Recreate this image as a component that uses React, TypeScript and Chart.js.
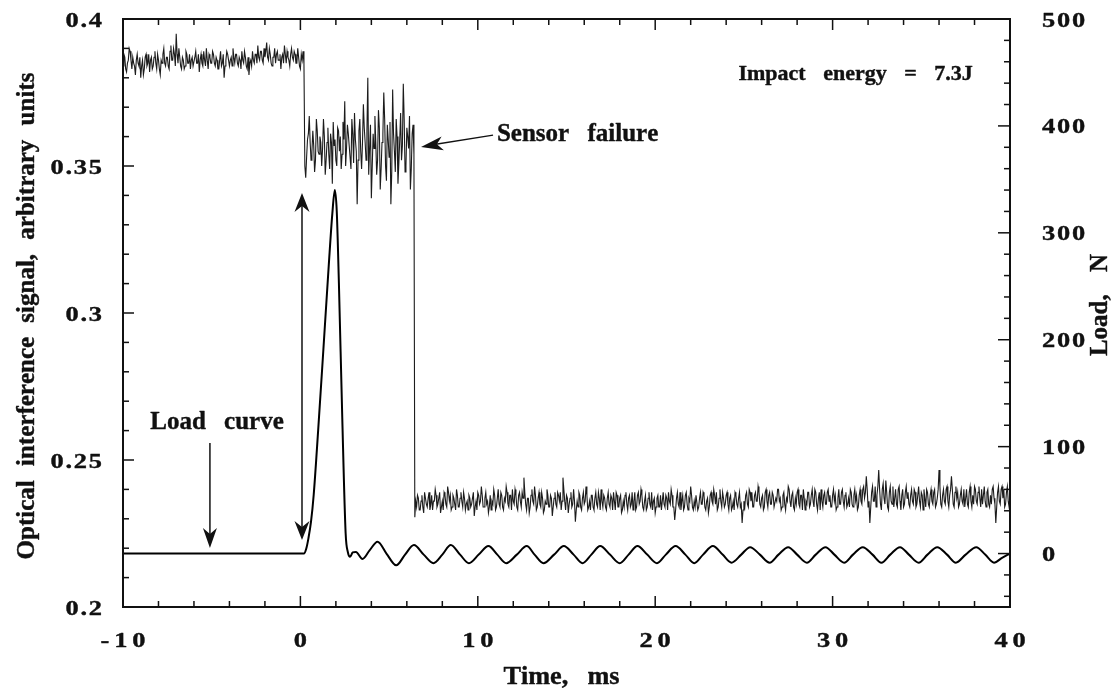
import React, { useEffect, useRef } from 'react';
import { Chart, registerables } from 'chart.js';

Chart.register(...registerables);

// ---------------- DATA ----------------
// Optical interference signal, sampled every 0.05 ms
const OPT_STEP_MS = 0.05;

// -10.00 ... 0.20 ms (intact sensor)
const PRE_START_MS = -10;
const preImpactSignal = [
  0.384, 0.388, 0.387, 0.383, 0.382, 0.385, 0.386, 0.390, 0.389, 0.386, 0.383, 0.387, 0.385, 0.384, 0.381, 0.386, 0.388, 0.385, 0.384, 0.387,
  0.380, 0.384, 0.386, 0.381, 0.383, 0.387, 0.388, 0.384, 0.385, 0.388, 0.382, 0.386, 0.387, 0.383, 0.384, 0.387, 0.389, 0.385, 0.383, 0.388,
  0.386, 0.383, 0.381, 0.386, 0.385, 0.388, 0.390, 0.385, 0.384, 0.387, 0.387, 0.384, 0.383, 0.389, 0.391, 0.386, 0.386, 0.390, 0.388, 0.384,
  0.395, 0.388, 0.385, 0.390, 0.387, 0.384, 0.383, 0.387, 0.386, 0.383, 0.384, 0.389, 0.388, 0.385, 0.385, 0.388, 0.383, 0.386, 0.387, 0.384,
  0.384, 0.387, 0.389, 0.385, 0.385, 0.388, 0.382, 0.386, 0.388, 0.385, 0.384, 0.389, 0.386, 0.384, 0.390, 0.386, 0.383, 0.388, 0.387, 0.385,
  0.385, 0.389, 0.388, 0.385, 0.384, 0.387, 0.386, 0.383, 0.383, 0.386, 0.389, 0.384, 0.385, 0.388, 0.380, 0.384, 0.386, 0.389, 0.388, 0.386,
  0.384, 0.386, 0.387, 0.384, 0.390, 0.387, 0.385, 0.388, 0.388, 0.385, 0.384, 0.387, 0.386, 0.383, 0.389, 0.386, 0.385, 0.389, 0.387, 0.384,
  0.383, 0.387, 0.381, 0.385, 0.386, 0.384, 0.389, 0.386, 0.385, 0.388, 0.388, 0.385, 0.391, 0.387, 0.386, 0.389, 0.389, 0.386, 0.385, 0.390,
  0.387, 0.389, 0.392, 0.387, 0.386, 0.390, 0.388, 0.385, 0.384, 0.387, 0.387, 0.390, 0.385, 0.388, 0.389, 0.386, 0.386, 0.388, 0.383, 0.387,
  0.388, 0.385, 0.391, 0.388, 0.385, 0.389, 0.387, 0.386, 0.384, 0.388, 0.390, 0.387, 0.386, 0.389, 0.388, 0.385, 0.385, 0.390, 0.387, 0.384,
  0.383, 0.388, 0.386, 0.389, 0.385,
];

// 0.25 ... 6.40 ms (during impact)
const IMPACT_START_MS = 0.25;
const impactSignal = [
  0.350, 0.346, 0.353, 0.359, 0.361, 0.367, 0.358, 0.352, 0.355, 0.362, 0.357, 0.348, 0.352, 0.366, 0.362, 0.355, 0.354, 0.360, 0.358, 0.350,
  0.356, 0.366, 0.360, 0.347, 0.352, 0.358, 0.363, 0.354, 0.349, 0.361, 0.358, 0.344, 0.365, 0.357, 0.359, 0.352, 0.350, 0.363, 0.362, 0.355,
  0.360, 0.349, 0.354, 0.365, 0.359, 0.372, 0.350, 0.356, 0.364, 0.361, 0.357, 0.353, 0.349, 0.366, 0.361, 0.351, 0.368, 0.359, 0.355, 0.337,
  0.352, 0.362, 0.366, 0.355, 0.349, 0.358, 0.371, 0.363, 0.358, 0.352, 0.362, 0.380, 0.347, 0.356, 0.364, 0.339, 0.350, 0.361, 0.356, 0.367,
  0.358, 0.347, 0.352, 0.369, 0.363, 0.342, 0.349, 0.358, 0.361, 0.375, 0.366, 0.350, 0.345, 0.364, 0.359, 0.353, 0.365, 0.337, 0.348, 0.376,
  0.361, 0.355, 0.348, 0.366, 0.360, 0.344, 0.351, 0.359, 0.368, 0.352, 0.357, 0.378, 0.366, 0.348, 0.350, 0.363, 0.360, 0.356, 0.367, 0.342,
  0.349, 0.361, 0.364, 0.354,
];

// 6.45 ... 40.00 ms (after sensor failure)
const POST_START_MS = 6.45;
const postFailureSignal = [
  0.2305, 0.236, 0.234, 0.238, 0.237, 0.233, 0.233, 0.236, 0.238, 0.234, 0.232, 0.239, 0.237, 0.235, 0.234, 0.237, 0.239, 0.233, 0.235, 0.238,
  0.233, 0.236, 0.236, 0.240, 0.238, 0.234, 0.235, 0.237, 0.239, 0.232, 0.234, 0.236, 0.233, 0.239, 0.238, 0.235, 0.234, 0.241, 0.239, 0.236,
  0.238, 0.233, 0.234, 0.238, 0.237, 0.235, 0.233, 0.240, 0.238, 0.234, 0.234, 0.237, 0.239, 0.236, 0.234, 0.239, 0.237, 0.233, 0.235, 0.236,
  0.233, 0.238, 0.237, 0.234, 0.235, 0.237, 0.239, 0.231, 0.234, 0.236, 0.233, 0.239, 0.238, 0.235, 0.236, 0.241, 0.238, 0.234, 0.234, 0.237,
  0.239, 0.235, 0.236, 0.232, 0.234, 0.238, 0.233, 0.236, 0.235, 0.240, 0.238, 0.233, 0.234, 0.237, 0.240, 0.235, 0.234, 0.239, 0.238, 0.234,
  0.233, 0.237, 0.236, 0.241, 0.239, 0.235, 0.234, 0.238, 0.238, 0.233, 0.240, 0.236, 0.235, 0.240, 0.238, 0.234, 0.233, 0.238, 0.239, 0.236,
  0.234, 0.239, 0.237, 0.244, 0.239, 0.235, 0.233, 0.237, 0.237, 0.232, 0.234, 0.238, 0.240, 0.236, 0.235, 0.241, 0.238, 0.233, 0.234, 0.237,
  0.239, 0.235, 0.234, 0.239, 0.237, 0.232, 0.233, 0.236, 0.235, 0.240, 0.238, 0.234, 0.234, 0.238, 0.237, 0.231, 0.234, 0.237, 0.239, 0.235,
  0.234, 0.239, 0.238, 0.236, 0.239, 0.233, 0.236, 0.244, 0.240, 0.236, 0.233, 0.238, 0.237, 0.232, 0.235, 0.237, 0.239, 0.234, 0.235, 0.240,
  0.236, 0.229, 0.233, 0.236, 0.234, 0.239, 0.238, 0.234, 0.233, 0.237, 0.239, 0.235, 0.236, 0.241, 0.238, 0.233, 0.234, 0.236, 0.233, 0.238,
  0.238, 0.234, 0.233, 0.237, 0.239, 0.235, 0.234, 0.239, 0.237, 0.233, 0.240, 0.236, 0.234, 0.238, 0.237, 0.234, 0.233, 0.237, 0.239, 0.235,
  0.234, 0.238, 0.237, 0.233, 0.239, 0.236, 0.233, 0.239, 0.238, 0.234, 0.234, 0.237, 0.238, 0.232, 0.233, 0.236, 0.234, 0.238, 0.239, 0.235,
  0.233, 0.237, 0.238, 0.234, 0.235, 0.239, 0.233, 0.236, 0.239, 0.233, 0.234, 0.238, 0.239, 0.235, 0.236, 0.240, 0.238, 0.234, 0.233, 0.236,
  0.238, 0.233, 0.234, 0.237, 0.239, 0.235, 0.234, 0.239, 0.233, 0.236, 0.237, 0.232, 0.234, 0.237, 0.238, 0.234, 0.234, 0.238, 0.233, 0.236,
  0.239, 0.235, 0.234, 0.238, 0.237, 0.233, 0.239, 0.236, 0.235, 0.240, 0.238, 0.234, 0.234, 0.2296, 0.233, 0.237, 0.239, 0.235, 0.234, 0.239,
  0.233, 0.236, 0.238, 0.233, 0.234, 0.238, 0.239, 0.235, 0.233, 0.237, 0.236, 0.241, 0.238, 0.234, 0.233, 0.236, 0.234, 0.238, 0.238, 0.233,
  0.234, 0.237, 0.239, 0.235, 0.235, 0.239, 0.238, 0.234, 0.233, 0.236, 0.237, 0.232, 0.234, 0.238, 0.239, 0.236, 0.235, 0.240, 0.238, 0.235,
  0.239, 0.233, 0.234, 0.237, 0.240, 0.236, 0.234, 0.239, 0.237, 0.234, 0.235, 0.238, 0.239, 0.235, 0.233, 0.237, 0.238, 0.233, 0.234, 0.236,
  0.233, 0.239, 0.238, 0.235, 0.234, 0.237, 0.239, 0.234, 0.235, 0.2286, 0.233, 0.236, 0.234, 0.238, 0.239, 0.235, 0.234, 0.240, 0.239, 0.236,
  0.239, 0.234, 0.234, 0.238, 0.239, 0.236, 0.236, 0.241, 0.239, 0.235, 0.234, 0.237, 0.238, 0.233, 0.234, 0.239, 0.240, 0.236, 0.234, 0.238,
  0.239, 0.235, 0.235, 0.239, 0.238, 0.234, 0.234, 0.237, 0.236, 0.240, 0.240, 0.236, 0.237, 0.233, 0.234, 0.238, 0.239, 0.235, 0.233, 0.237,
  0.236, 0.241, 0.240, 0.236, 0.234, 0.238, 0.239, 0.234, 0.233, 0.237, 0.235, 0.239, 0.240, 0.235, 0.234, 0.238, 0.238, 0.233, 0.240, 0.237,
  0.233, 0.236, 0.235, 0.239, 0.239, 0.234, 0.235, 0.238, 0.240, 0.236, 0.234, 0.240, 0.239, 0.235, 0.233, 0.237, 0.239, 0.233, 0.240, 0.236,
  0.234, 0.238, 0.239, 0.235, 0.235, 0.239, 0.240, 0.236, 0.238, 0.234, 0.234, 0.238, 0.240, 0.236, 0.238, 0.233, 0.234, 0.237, 0.240, 0.235,
  0.235, 0.239, 0.240, 0.236, 0.234, 0.238, 0.239, 0.234, 0.235, 0.237, 0.234, 0.240, 0.239, 0.235, 0.234, 0.238, 0.240, 0.236, 0.238, 0.233,
  0.234, 0.238, 0.240, 0.236, 0.235, 0.240, 0.241, 0.237, 0.239, 0.2445, 0.240, 0.234, 0.236, 0.2286, 0.234, 0.239, 0.241, 0.236, 0.236, 0.241,
  0.234, 0.238, 0.241, 0.2466, 0.240, 0.235, 0.233, 0.240, 0.242, 0.237, 0.235, 0.243, 0.239, 0.234, 0.233, 0.239, 0.241, 0.236, 0.235, 0.241,
  0.234, 0.237, 0.240, 0.235, 0.234, 0.240, 0.241, 0.236, 0.233, 0.238, 0.240, 0.234, 0.235, 0.239, 0.241, 0.237, 0.239, 0.235, 0.234, 0.238,
  0.240, 0.236, 0.235, 0.240, 0.239, 0.234, 0.235, 0.238, 0.241, 0.236, 0.234, 0.239, 0.238, 0.233, 0.240, 0.237, 0.234, 0.240, 0.239, 0.235,
  0.234, 0.238, 0.240, 0.236, 0.235, 0.239, 0.240, 0.234, 0.235, 0.237, 0.240, 0.2466, 0.241, 0.235, 0.234, 0.238, 0.240, 0.236, 0.235, 0.240,
  0.241, 0.236, 0.234, 0.238, 0.240, 0.2445, 0.240, 0.235, 0.234, 0.239, 0.241, 0.237, 0.239, 0.234, 0.235, 0.238, 0.240, 0.236, 0.235, 0.240,
  0.234, 0.237, 0.240, 0.235, 0.234, 0.239, 0.241, 0.236, 0.234, 0.238, 0.235, 0.241, 0.240, 0.236, 0.235, 0.239, 0.241, 0.237, 0.234, 0.240,
  0.235, 0.238, 0.241, 0.236, 0.234, 0.239, 0.240, 0.235, 0.234, 0.238, 0.235, 0.240, 0.241, 0.237, 0.235, 0.2286, 0.234, 0.239, 0.241, 0.236,
  0.235, 0.240, 0.241, 0.237, 0.240, 0.234, 0.235, 0.239, 0.241, 0.236, 0.234, 0.238,
];

// Load curve (time in ms, load in N)
const loadTimeMs = [
  -10, 0.2, 0.32, 0.45, 0.6, 0.75, 1.0, 1.3, 1.6, 1.8, 1.94, 2.05, 2.17, 2.36, 2.55, 2.68,
  2.8, 2.95, 3.13, 3.5, 3.9, 4.35, 4.85, 5.4, 5.9, 6.4, 6.95, 7.5, 8.0, 8.48, 9.0,
  9.5, 10.05, 10.6, 11.1, 11.6, 12.2, 12.76, 13.2, 13.7, 14.3, 14.85, 15.4,
  15.9, 16.4, 16.9, 17.45, 18.0, 18.5, 19.0, 19.55, 20.1, 20.6, 21.15, 21.7,
  22.2, 22.7, 23.25, 23.8, 24.3, 24.85, 25.35, 25.9, 26.45, 26.95, 27.5, 28.0,
  28.55, 29.05, 29.6, 30.1, 30.65, 31.15, 31.7, 32.25, 32.75, 33.25, 33.8,
  34.3, 34.85, 35.35, 35.9, 36.45, 36.95, 37.5, 38.1, 38.6, 39.1, 39.55, 40.0,
];
const loadN = [
  0, 0, 4, 14, 30, 55, 115, 192, 270, 318, 340, 320, 253, 127, 19, 1,
  -3, 1, 1.5, -5, 3, 11, 0, -11, -1, 8, -1, -9, -1, 8, -1,
  -9, -1, 7, -1, -9, -1, 7, -1, -9, -1, 7, -1,
  -9, -1, 7, -1, -9, -1, 7, -1, -9, -1, 7, -1,
  -9, -1, 7, -1, -8.5, -1, 6, -1, -8.5, -1, 6, -1,
  -8.5, -1, 6, -1, -8.5, -1, 6, -1, -8.5, -1, 6,
  -1, -8.5, -1, 6, -1, -8.5, -1, 6, -1, -8.5, -4, 0,
];

// Axes
const xTickValues = [-10, 0, 10, 20, 30, 40];
const xTickLabels = ['-10', '0', '10', '20', '30', '40'];
const leftTickValues = [0.2, 0.25, 0.3, 0.35, 0.4];
const leftTickLabels = ['0.2', '0.25', '0.3', '0.35', '0.4'];
const rightTickValues = [0, 100, 200, 300, 400, 500];
const rightTickLabels = ['0', '100', '200', '300', '400', '500'];

const xTitle = 'Time, ms';
const leftTitle = 'Optical interference signal, arbitrary units';
const rightTitle = 'Load, N';

// Annotations (data coordinates: x in ms, y on left axis)
const noteLoad = { text: 'Load curve', x: -4.7, y: 0.2605 };
const noteSensor = { text: 'Sensor failure', x: 11.08, y: 0.3585 };
const noteEnergy = { text: 'Impact energy = 7.3J', x: 37.9, y: 0.3793 };
const arrowLoad = { x1: -5.1, y1: 0.2558, x2: -5.1, y2: 0.2201 };
const arrowSensor = { x1: 10.86, y1: 0.3605, x2: 6.8, y2: 0.3565 };
const arrowImpact = { x: 0.09, yTop: 0.3408, yBottom: 0.2228 };

// ---------------- DRAWING HELPERS ----------------
const FONT = '"Liberation Serif", "Times New Roman", Times, serif';
const INK = '#111111';

type TextOpts = { size: number; align?: 'left' | 'center' | 'right'; sx?: number; ls?: number; ws?: number; rot?: number };

function drawText(ctx: CanvasRenderingContext2D, text: string, x: number, y: number, o: TextOpts) {
  const { size, align = 'left', sx = 1, ls = 0, ws = 0, rot = 0 } = o;
  ctx.save();
  ctx.font = `bold ${size}px ${FONT}`;
  ctx.fillStyle = INK;
  ctx.strokeStyle = INK;
  ctx.lineWidth = 0.4;
  ctx.lineJoin = 'round';
  ctx.textAlign = 'left';
  ctx.textBaseline = 'alphabetic';
  const chars = Array.from(text);
  const adv = chars.map((c) => ctx.measureText(c).width + (c === ' ' ? ws : 0));
  const total = adv.reduce((s, v) => s + v, 0) + ls * (chars.length - 1);
  ctx.translate(x, y);
  ctx.scale(sx, 1);
  if (rot) ctx.rotate(rot);
  let cx = align === 'center' ? -total / 2 : align === 'right' ? -total : 0;
  chars.forEach((c, i) => {
    ctx.fillText(c, cx, 0);
    ctx.strokeText(c, cx, 0);
    cx += adv[i] + ls;
  });
  ctx.restore();
}

function arrowHead(ctx: CanvasRenderingContext2D, tx: number, ty: number, fx: number, fy: number, len: number, hw: number, notch: number) {
  const dx = tx - fx, dy = ty - fy;
  const d = Math.hypot(dx, dy) || 1;
  const ux = dx / d, uy = dy / d;
  const nx = -uy, ny = ux;
  const bx = tx - ux * len, by = ty - uy * len;
  const mx = tx - ux * (len - notch), my = ty - uy * (len - notch);
  ctx.beginPath();
  ctx.moveTo(tx, ty);
  ctx.lineTo(bx + nx * hw, by + ny * hw);
  ctx.lineTo(mx, my);
  ctx.lineTo(bx - nx * hw, by - ny * hw);
  ctx.closePath();
  ctx.fill();
}

const framePlugin = {
  id: 'frame',
  afterDatasetsDraw(chart: any) {
    const { ctx, chartArea: a, scales } = chart;
    const xs = scales.x, yl = scales.y, yr = scales.y1;
    ctx.save();
    ctx.strokeStyle = INK;
    ctx.fillStyle = INK;
    ctx.lineCap = 'butt';

    // frame
    ctx.lineWidth = 2;
    ctx.strokeRect(a.left, a.top, a.right - a.left, a.bottom - a.top);

    // inward ticks
    ctx.lineWidth = 1.5;
    const seg = (x1: number, y1: number, x2: number, y2: number) => {
      ctx.beginPath();
      ctx.moveTo(x1, y1);
      ctx.lineTo(x2, y2);
      ctx.stroke();
    };
    for (let i = 0; i <= 25; i++) {
      const v = -10 + 2 * i;
      const len = v % 10 === 0 ? 11 : 6;
      const px = xs.getPixelForValue(v);
      seg(px, a.bottom, px, a.bottom - len);
      seg(px, a.top, px, a.top + len);
    }
    for (let i = 0; i <= 20; i++) {
      const v = 0.2 + i * 0.01;
      const len = i % 5 === 0 ? 11 : 6;
      const py = yl.getPixelForValue(v);
      seg(a.left, py, a.left + len, py);
    }
    for (let i = 0; i <= 27; i++) {
      const v = -40 + 20 * i;
      const len = v % 100 === 0 ? 12 : 6;
      const py = yr.getPixelForValue(v);
      seg(a.right, py, a.right - len, py);
    }

    // tick labels
    xTickValues.forEach((v, i) => {
      drawText(ctx, xTickLabels[i], xs.getPixelForValue(v), a.bottom + 40, { size: 22, align: 'center', sx: 1.2, ls: 4 });
    });
    leftTickValues.forEach((v, i) => {
      drawText(ctx, leftTickLabels[i], a.left - 21, yl.getPixelForValue(v) + 7.5, { size: 22, align: 'right', sx: 1.2, ls: 1.5 });
    });
    rightTickValues.forEach((v, i) => {
      drawText(ctx, rightTickLabels[i], a.right + 32, yr.getPixelForValue(v) + 7.5, { size: 22, align: 'left', sx: 1.2, ls: 1.5 });
    });

    // axis titles
    drawText(ctx, xTitle, (a.left + a.right) / 2 - 5, 684, { size: 25, align: 'center', ws: 12, sx: 1.05 });
    drawText(ctx, leftTitle, 34, (a.top + a.bottom) / 2 + 3, { size: 25, align: 'center', ws: 8, rot: -Math.PI / 2 });
    drawText(ctx, rightTitle, 1107, 305, { size: 25, align: 'center', ws: 16, rot: -Math.PI / 2 });

    // annotations
    drawText(ctx, noteLoad.text, xs.getPixelForValue(noteLoad.x), yl.getPixelForValue(noteLoad.y), { size: 25, align: 'center', ws: 12 });
    drawText(ctx, noteSensor.text, xs.getPixelForValue(noteSensor.x), yl.getPixelForValue(noteSensor.y), { size: 25, align: 'left', ws: 12 });
    drawText(ctx, noteEnergy.text, xs.getPixelForValue(noteEnergy.x), yl.getPixelForValue(noteEnergy.y), { size: 22, align: 'right', ws: 12 });

    ctx.lineWidth = 1.5;
    // load-curve arrow
    {
      const x1 = xs.getPixelForValue(arrowLoad.x1), y1 = yl.getPixelForValue(arrowLoad.y1);
      const x2 = xs.getPixelForValue(arrowLoad.x2), y2 = yl.getPixelForValue(arrowLoad.y2);
      seg(x1, y1, x2, y2 - 10);
      arrowHead(ctx, x2, y2, x1, y1, 20, 7, 6);
    }
    // sensor-failure arrow
    {
      const x1 = xs.getPixelForValue(arrowSensor.x1), y1 = yl.getPixelForValue(arrowSensor.y1);
      const x2 = xs.getPixelForValue(arrowSensor.x2), y2 = yl.getPixelForValue(arrowSensor.y2);
      seg(x1, y1, x2 + 10, y2 - 2);
      arrowHead(ctx, x2, y2, x1, y1, 22, 7, 6);
    }
    // double-headed impact arrow
    {
      const x = xs.getPixelForValue(arrowImpact.x);
      const yt = yl.getPixelForValue(arrowImpact.yTop);
      const yb = yl.getPixelForValue(arrowImpact.yBottom);
      seg(x, yt + 10, x, yb - 10);
      arrowHead(ctx, x, yt, x, yb, 19, 7.5, 6);
      arrowHead(ctx, x, yb, x, yt, 19, 7.5, 6);
    }
    ctx.restore();
  },
};

function toPoints(start: number, values: number[]) {
  return values.map((v, i) => ({ x: Math.round((start + i * OPT_STEP_MS) * 100) / 100, y: v }));
}

// ---------------- COMPONENT ----------------
export default function App() {
  const ref = useRef<HTMLCanvasElement>(null);

  useEffect(() => {
    let chart: Chart | null = null;
    let cancelled = false;

    const build = () => {
      if (cancelled || !ref.current) return;
      const opticalPoints = [
        ...toPoints(PRE_START_MS, preImpactSignal),
        ...toPoints(IMPACT_START_MS, impactSignal),
        ...toPoints(POST_START_MS, postFailureSignal),
      ];
      const loadPoints = loadTimeMs.map((t, i) => ({ x: t, y: loadN[i] }));

      chart = new Chart(ref.current as HTMLCanvasElement, {
        type: 'line',
        data: {
          datasets: [
            {
              label: 'Optical interference signal',
              data: opticalPoints,
              yAxisID: 'y',
              borderColor: '#1c1c1c',
              borderWidth: 1.1,
              pointRadius: 0,
              tension: 0,
              fill: false,
            },
            {
              label: 'Load',
              data: loadPoints,
              yAxisID: 'y1',
              borderColor: '#000000',
              borderWidth: 2,
              pointRadius: 0,
              cubicInterpolationMode: 'monotone',
              fill: false,
            },
          ],
        },
        options: {
          responsive: false,
          animation: false,
          devicePixelRatio: 1,
          events: [],
          layout: { padding: { left: 123, right: 103, top: 19, bottom: 86 } },
          plugins: { legend: { display: false }, tooltip: { enabled: false } },
          scales: {
            x: { type: 'linear', display: false, min: -10, max: 40 },
            y: { type: 'linear', display: false, position: 'left', min: 0.2, max: 0.4 },
            y1: { type: 'linear', display: false, position: 'right', min: -50, max: 500 },
          },
        },
        plugins: [framePlugin],
      } as any);
    };

    const fonts = (document as any).fonts;
    if (fonts && fonts.load) {
      Promise.all([
        fonts.load('bold 22px "Liberation Serif"'),
        fonts.load('bold 25px "Liberation Serif"'),
      ]).then(build, build);
    } else {
      build();
    }

    return () => {
      cancelled = true;
      if (chart) chart.destroy();
    };
  }, []);

  return (
    <div style={{ position: 'fixed', left: 0, top: 0, width: 1113, height: 693, background: '#ffffff' }}>
      <canvas ref={ref} width={1113} height={693} style={{ display: 'block', width: 1113, height: 693 }} />
    </div>
  );
}
